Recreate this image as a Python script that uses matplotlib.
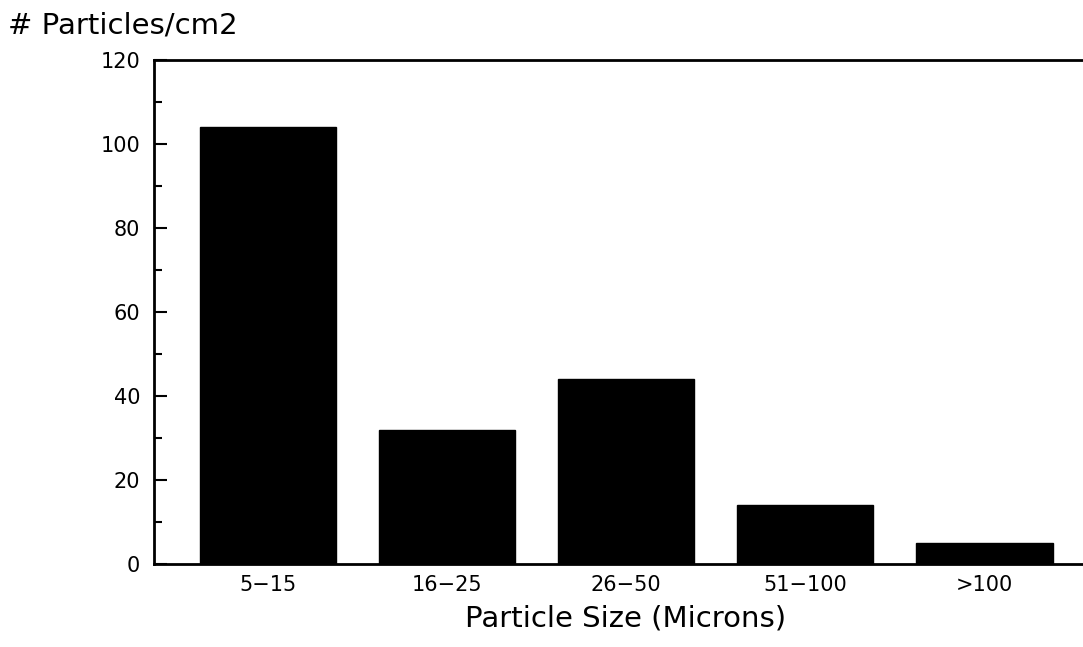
import matplotlib.pyplot as plt
import numpy as np
from matplotlib.ticker import MultipleLocator

# particle counts per size class
size_classes = ['5\u221215', '16\u221225', '26\u221250', '51\u2212100', '>100']
counts = [104, 32, 44, 14, 5]

fig = plt.figure(figsize=(10.83, 6.47), dpi=100)
# axes box in pixels: left 154, right 1083, top 60, bottom 564
ax = fig.add_axes([154/1083, 1 - 564/647, (1083 - 154)/1083, (564 - 60)/647])

x = np.arange(len(counts))
ax.bar(x, counts, width=0.76, color='black', edgecolor='black')

ax.set_xlim(-0.635, 4.55)
ax.set_ylim(0, 120)
ax.set_xticks(x)
ax.set_xticklabels(size_classes)
ax.yaxis.set_major_locator(MultipleLocator(20))
ax.yaxis.set_minor_locator(MultipleLocator(10))

ax.spines['right'].set_visible(False)
for s in ['left', 'top', 'bottom']:
    ax.spines[s].set_linewidth(2)

ax.tick_params(axis='y', which='major', direction='in', length=9, width=1.5,
               labelsize=15, pad=10)
ax.tick_params(axis='y', which='minor', direction='in', length=6, width=1.5)
ax.tick_params(axis='x', length=0, labelsize=15, pad=8)

ax.set_xlabel('Particle Size (Microns)', fontsize=21, va='center')
ax.xaxis.set_label_coords(0.508, -(618 - 564)/504)
fig.text(8/1083, 1 - 26/647, '# Particles/cm2', fontsize=21, va='center', ha='left')

fig.savefig('out.png', dpi=100)
